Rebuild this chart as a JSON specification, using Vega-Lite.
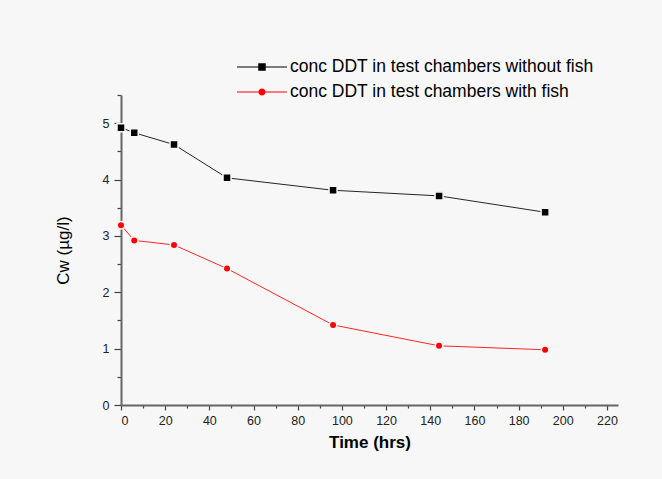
{
  "$schema": "https://vega.github.io/schema/vega-lite/v6.json",
  "width": 497,
  "height": 310,
  "autosize": {"type": "none"},
  "padding": {"left": 121, "top": 95, "right": 44, "bottom": 74},
  "background": "#f7f7f7",
  "config": {
    "view": {"stroke": null},
    "font": "Liberation Sans",
    "axis": {
      "domainColor": "#666666",
      "domainWidth": 2,
      "tickColor": "#444444",
      "tickWidth": 1.2,
      "labelColor": "#222222",
      "labelFont": "Liberation Sans",
      "labelFontSize": 12.5,
      "titleFont": "Liberation Sans",
      "titleColor": "#000000",
      "titleFontSize": 17,
      "grid": false
    }
  },
  "data": {
    "values": [
      {"series": "conc DDT in test chambers without fish", "time": 0, "cw": 4.92},
      {"series": "conc DDT in test chambers without fish", "time": 6, "cw": 4.83},
      {"series": "conc DDT in test chambers without fish", "time": 24, "cw": 4.62},
      {"series": "conc DDT in test chambers without fish", "time": 48, "cw": 4.03},
      {"series": "conc DDT in test chambers without fish", "time": 96, "cw": 3.81},
      {"series": "conc DDT in test chambers without fish", "time": 144, "cw": 3.71},
      {"series": "conc DDT in test chambers without fish", "time": 192, "cw": 3.42},
      {"series": "conc DDT in test chambers with fish", "time": 0, "cw": 3.19},
      {"series": "conc DDT in test chambers with fish", "time": 6, "cw": 2.92},
      {"series": "conc DDT in test chambers with fish", "time": 24, "cw": 2.84},
      {"series": "conc DDT in test chambers with fish", "time": 48, "cw": 2.42},
      {"series": "conc DDT in test chambers with fish", "time": 96, "cw": 1.42},
      {"series": "conc DDT in test chambers with fish", "time": 144, "cw": 1.05},
      {"series": "conc DDT in test chambers with fish", "time": 192, "cw": 0.98}
    ]
  },
  "encoding": {
    "x": {
      "field": "time",
      "type": "quantitative",
      "scale": {"domain": [0, 225], "nice": false, "zero": false},
      "axis": {
        "title": "Time (hrs)",
        "titleFontWeight": "bold",
        "titlePadding": 8,
        "values": [0, 10, 20, 30, 40, 50, 60, 70, 80, 90, 100, 110, 120, 130, 140, 150, 160, 170, 180, 190, 200, 210, 220],
        "labelExpr": "datum.value % 20 === 0 ? toString(datum.value) : ''",
        "tickSize": {"condition": {"test": "datum.value % 20 === 0", "value": 5}, "value": 3},
        "labelPadding": 4
      }
    },
    "y": {
      "field": "cw",
      "type": "quantitative",
      "scale": {"domain": [0, 5.5], "nice": false},
      "axis": {
        "title": "Cw (µg/l)",
        "titleFontWeight": "normal",
        "titlePadding": 30,
        "values": [0, 0.5, 1, 1.5, 2, 2.5, 3, 3.5, 4, 4.5, 5, 5.5],
        "labelExpr": "datum.value % 1 === 0 ? toString(datum.value) : ''",
        "tickSize": {"condition": {"test": "datum.value % 1 === 0", "value": 7}, "value": 4},
        "labelPadding": 5
      }
    },
    "color": {
      "field": "series",
      "type": "nominal",
      "scale": {
        "domain": ["conc DDT in test chambers without fish", "conc DDT in test chambers with fish"],
        "range": ["#000000", "#ff0000"]
      },
      "legend": {
        "title": null,
        "orient": "none",
        "legendX": 116,
        "legendY": -38,
        "symbolSize": 2500,
        "symbolStrokeWidth": 0,
        "symbolOpacity": 1,
        "clipHeight": 20,
        "rowPadding": 5,
        "labelFont": "Liberation Sans",
        "labelFontSize": 17.5,
        "labelColor": "#000000",
        "labelOffset": 3,
        "labelLimit": 400
      }
    }
  },
  "layer": [
    {
      "description": "Key glyphs: a connecting bar with the series marker, used by the legend only (zero-size in the plot).",
      "mark": {"type": "point", "filled": true, "size": 0},
      "encoding": {
        "shape": {
          "field": "series",
          "type": "nominal",
          "scale": {
            "domain": ["conc DDT in test chambers without fish", "conc DDT in test chambers with fish"],
            "range": [
              "M-1,-0.022H1V0.022H-1Z M-0.15,-0.15H0.15V0.15H-0.15Z",
              "M-1,-0.022H1V0.022H-1Z M0.14,0A0.14,0.14 0 1 1 -0.14,0A0.14,0.14 0 1 1 0.14,0Z"
            ]
          }
        }
      }
    },
    {
      "mark": {"type": "line", "strokeWidth": 1, "opacity": 0.85}
    },
    {
      "transform": [{"filter": "datum.series === 'conc DDT in test chambers without fish'"}],
      "mark": {"type": "point", "shape": "square", "filled": true, "stroke": "#f7f7f7", "strokeWidth": 1.5, "opacity": 1, "size": 64}
    },
    {
      "transform": [{"filter": "datum.series === 'conc DDT in test chambers with fish'"}],
      "mark": {"type": "point", "shape": "circle", "filled": true, "stroke": "#f7f7f7", "strokeWidth": 1.5, "opacity": 1, "size": 56}
    }
  ]
}
